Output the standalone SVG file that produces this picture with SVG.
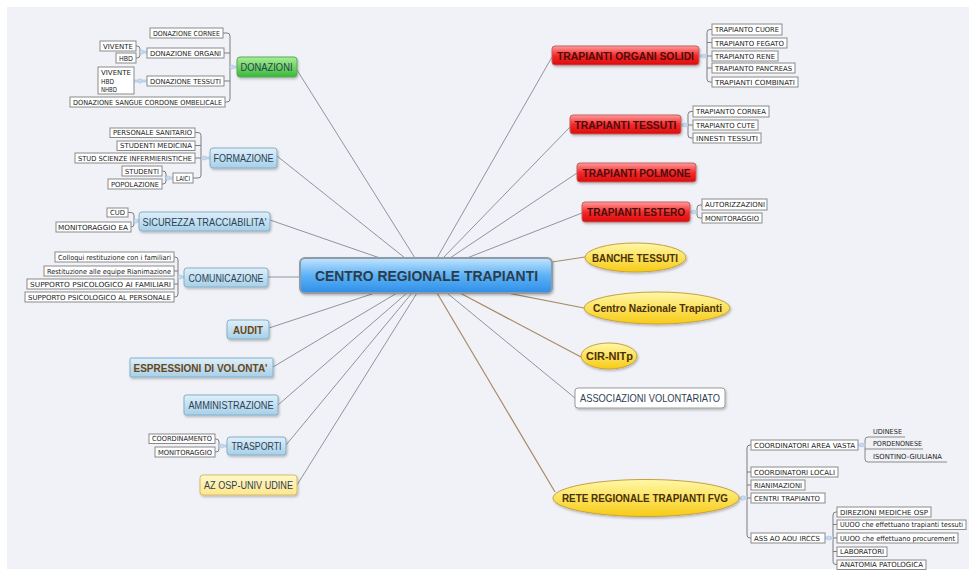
<svg xmlns="http://www.w3.org/2000/svg" width="976" height="576" viewBox="0 0 976 576">
<defs>
<linearGradient id="gBlue" x1="0" y1="0" x2="0" y2="1"><stop offset="0" stop-color="#dff0fa"/><stop offset="1" stop-color="#a6d0e8"/></linearGradient>
<linearGradient id="gGreen" x1="0" y1="0" x2="0" y2="1"><stop offset="0" stop-color="#a8f094"/><stop offset="1" stop-color="#38b838"/></linearGradient>
<linearGradient id="gRed" x1="0" y1="0" x2="0" y2="1"><stop offset="0" stop-color="#ff9c9c"/><stop offset="0.5" stop-color="#f52a2a"/><stop offset="1" stop-color="#dc0a0a"/></linearGradient>
<linearGradient id="gYel" x1="0" y1="0" x2="0" y2="1"><stop offset="0" stop-color="#fff8a8"/><stop offset="1" stop-color="#f7cb14"/></linearGradient>
<linearGradient id="gPale" x1="0" y1="0" x2="0" y2="1"><stop offset="0" stop-color="#fff9c8"/><stop offset="1" stop-color="#fde68c"/></linearGradient>
<linearGradient id="gCenter" x1="0" y1="0" x2="0" y2="1"><stop offset="0" stop-color="#c4e4fd"/><stop offset="0.5" stop-color="#5cb2f6"/><stop offset="1" stop-color="#2e8ee8"/></linearGradient>
<filter id="sh" x="-10%" y="-20%" width="120%" height="150%"><feDropShadow dx="1" dy="1.5" stdDeviation="1" flood-color="#000" flood-opacity="0.25"/></filter>
</defs>
<style>
.leaf{fill:#fff;stroke:#8a8a8a;stroke-width:1}
.lt{font-family:"DejaVu Sans Condensed","DejaVu Sans",sans-serif;font-size:7px;fill:#222}
.br{fill:none;stroke:#7d7d7d;stroke-width:1}
.jn{fill:none;stroke:#bcd4ec;stroke-width:3}
.kn{fill:#cadcf0;stroke:#a9c2de;stroke-width:0.6}
.cg{fill:none;stroke:#8f949c;stroke-width:1}
.cb{fill:none;stroke:#a88a66;stroke-width:1.2}
.nb{fill:url(#gBlue);stroke:#86aec8;stroke-width:1}
.nt{font-family:"Liberation Sans",Arial,sans-serif;font-size:10.5px;fill:#2d4053;text-anchor:middle}
.ntb{font-family:"Liberation Sans",Arial,sans-serif;font-size:10.5px;font-weight:bold;fill:#6a4516;text-anchor:middle}
.red{fill:url(#gRed);stroke:#c06060;stroke-width:1}
.rt{font-family:"Liberation Sans",Arial,sans-serif;font-size:10.5px;font-weight:bold;fill:#4a0e0e;text-anchor:middle}
.yel{fill:url(#gYel);stroke:#c9a040;stroke-width:1}
.yt{font-family:"Liberation Sans",Arial,sans-serif;font-size:10.5px;font-weight:bold;fill:#4a3008;text-anchor:middle}
.ul{fill:none;stroke:#8a8a8a;stroke-width:1}
</style>
<rect x="0" y="0" width="976" height="576" fill="#ffffff"/>
<rect x="7" y="7" width="962" height="562" fill="#f1f2f7"/>

<g id="connectors">
<path class="cg" d="M297,70 L415,258"/>
<path class="cg" d="M277,156 L405,258"/>
<path class="cg" d="M270,220 L380,258"/>
<path class="cg" d="M268,277 L300,277"/>
<path class="cg" d="M269,328 L375,293"/>
<path class="cg" d="M273,367 L397,293"/>
<path class="cg" d="M278,405 L407,293"/>
<path class="cg" d="M286,445 L412,293"/>
<path class="cg" d="M297,485 L417,293"/>
<path class="cg" d="M552,57 L437,258"/>
<path class="cg" d="M570,127 L443,258"/>
<path class="cg" d="M577,173 L450,258"/>
<path class="cg" d="M582,213 L467,258"/>
<path class="cg" d="M447,293 L575,398"/>
<path class="cb" d="M552,262 L585,257"/>
<path class="cb" d="M507,293 L584,308"/>
<path class="cb" d="M460,293 L581,357"/>
<path class="cb" d="M437,293 L555,492"/>
<path class="br" d="M223,33 H227 Q230,33 230,36 V99 Q230,102 227,102 H225 M224,53 H230 M224,81 H230"/>
<path class="jn" d="M230,67 H237"/><circle class="kn" cx="232" cy="67" r="2"/>
<path class="br" d="M136,46 H137 Q140,46 140,49 V55 Q140,58 137,58 H136"/>
<path class="jn" d="M140,52 H147"/><circle class="kn" cx="142" cy="52" r="2"/>
<path class="jn" d="M134,81 H147"/><circle class="kn" cx="140" cy="81" r="2.2"/>
<path class="br" d="M195,132.5 H198 Q201,132.5 201,135.5 V175 Q201,178 198,178 H193 M195,145.5 H201 M195,158 H201"/>
<path class="jn" d="M201,158 H210"/><circle class="kn" cx="204" cy="158" r="2"/>
<path class="br" d="M162,171 H163 Q166,171 166,174 V181 Q166,184 163,184 H162"/>
<path class="jn" d="M166,178 H173"/><circle class="kn" cx="168" cy="178" r="2"/>
<path class="br" d="M128,212.5 H131 Q134,212.5 134,215.5 V224 Q134,227 131,227"/>
<path class="jn" d="M134,221 H139"/><circle class="kn" cx="136" cy="221" r="2"/>
<path class="br" d="M174,257 H175 Q178,257 178,260 V294 Q178,297 175,297 H174 M174,271 H178 M174,284 H178"/>
<path class="jn" d="M178,277 H184"/><circle class="kn" cx="180" cy="277" r="2"/>
<path class="br" d="M215,439 H216 Q219,439 219,442 V449 Q219,452 216,452 H215"/>
<path class="jn" d="M219,446 H227"/><circle class="kn" cx="222" cy="446" r="2"/>
<path class="br" d="M712,29.5 H710 Q707,29.5 707,32.5 V79 Q707,82 710,82 H712 M707,42.5 H712 M707,56 H712 M707,68 H712"/>
<path class="jn" d="M699,56 H707"/><circle class="kn" cx="704" cy="56" r="2"/>
<path class="br" d="M693,111.5 H691 Q688,111.5 688,114.5 V135 Q688,138 691,138 H693 M688,125 H693"/>
<path class="jn" d="M681,125 H688"/><circle class="kn" cx="685" cy="125" r="2"/>
<path class="br" d="M702,205 H700 Q697,205 697,208 V215 Q697,218 700,218 H702"/>
<path class="jn" d="M690,212 H697"/><circle class="kn" cx="694" cy="212" r="2"/>
<path class="br" d="M751,445 H750 Q747,445 747,448 V535 Q747,538 750,538 H751 M747,472 H751 M747,485 H751 M747,498 H751"/>
<path class="jn" d="M739,498 H747"/><circle class="kn" cx="743" cy="498" r="2.2"/>
<path class="ul" d="M905,437 H868 Q865,437 865,440 V459 Q865,462 868,462 H947 M865,449 H923"/>
<path class="jn" d="M858,445 H865"/><circle class="kn" cx="862" cy="445" r="2"/>
<path class="br" d="M837,512 H836 Q833,512 833,515 V561.5 Q833,564.5 836,564.5 H837 M833,524.5 H837 M833,538 H837 M833,551.5 H837"/>
<path class="jn" d="M825,538 H833"/><circle class="kn" cx="829" cy="538" r="2"/>
</g>

<g id="centro"><rect x="300" y="258" width="252" height="35" rx="5" fill="url(#gCenter)" stroke="#8e9aa6" stroke-width="2" filter="url(#sh)"/><text x="426.5" y="281" font-family="Liberation Sans,Arial,sans-serif" font-size="15" font-weight="bold" fill="#2c3c4c" text-anchor="middle" textLength="223" lengthAdjust="spacingAndGlyphs">CENTRO REGIONALE TRAPIANTI</text></g>

<g id="donazioni"><rect x="237" y="57" width="60" height="20" rx="3" fill="url(#gGreen)" stroke="#5aa85a" filter="url(#sh)"/><text class="nt" x="266.5" y="71" fill="#1f3d2a" textLength="52" lengthAdjust="spacingAndGlyphs">DONAZIONI</text></g>
<g id="don-cornee"><rect class="leaf" x="150" y="28" width="73" height="10"/><text class="lt" x="153" y="35.5" textLength="67" lengthAdjust="spacingAndGlyphs">DONAZIONE CORNEE</text></g>
<g id="don-organi"><rect class="leaf" x="147" y="48" width="77" height="10"/><text class="lt" x="150" y="55.5" textLength="71" lengthAdjust="spacingAndGlyphs">DONAZIONE ORGANI</text></g>
<g id="org-vivente"><rect class="leaf" x="100" y="41" width="36" height="10"/><text class="lt" x="103" y="48.5" textLength="30" lengthAdjust="spacingAndGlyphs">VIVENTE</text></g>
<g id="org-hbd"><rect class="leaf" x="116" y="53" width="20" height="10"/><text class="lt" x="119" y="60.5" textLength="14" lengthAdjust="spacingAndGlyphs">HBD</text></g>
<g id="tes-tipi"><rect class="leaf" x="98" y="67" width="36" height="27"/><text class="lt" x="101" y="75" textLength="30" lengthAdjust="spacingAndGlyphs">VIVENTE</text><text class="lt" x="101" y="83.5" textLength="13" lengthAdjust="spacingAndGlyphs">HBD</text><text class="lt" x="101" y="92" textLength="16" lengthAdjust="spacingAndGlyphs">NHBD</text></g>
<g id="don-tessuti"><rect class="leaf" x="147" y="76" width="77" height="10"/><text class="lt" x="150" y="83.5" textLength="71" lengthAdjust="spacingAndGlyphs">DONAZIONE TESSUTI</text></g>
<g id="don-sangue"><rect class="leaf" x="70" y="97" width="155" height="10"/><text class="lt" x="73" y="104.5" textLength="149" lengthAdjust="spacingAndGlyphs">DONAZIONE SANGUE CORDONE OMBELICALE</text></g>

<g id="formazione"><rect class="nb" x="210" y="148" width="67" height="20" rx="3" filter="url(#sh)"/><text class="nt" x="243.5" y="162" textLength="60" lengthAdjust="spacingAndGlyphs">FORMAZIONE</text></g>
<g id="for-personale"><rect class="leaf" x="110" y="128" width="85" height="9.5"/><text class="lt" x="113" y="135.3" textLength="79" lengthAdjust="spacingAndGlyphs">PERSONALE SANITARIO</text></g>
<g id="for-medicina"><rect class="leaf" x="117" y="141" width="78" height="9.5"/><text class="lt" x="120" y="148.3" textLength="72" lengthAdjust="spacingAndGlyphs">STUDENTI MEDICINA</text></g>
<g id="for-stud"><rect class="leaf" x="75" y="153" width="120" height="10"/><text class="lt" x="78" y="160.5" textLength="114" lengthAdjust="spacingAndGlyphs">STUD SCIENZE INFERMIERISTICHE</text></g>
<g id="for-studenti"><rect class="leaf" x="122" y="166" width="40" height="10"/><text class="lt" x="125" y="173.5" textLength="34" lengthAdjust="spacingAndGlyphs">STUDENTI</text></g>
<g id="for-popolazione"><rect class="leaf" x="108" y="179" width="54" height="10"/><text class="lt" x="111" y="186.5" textLength="48" lengthAdjust="spacingAndGlyphs">POPOLAZIONE</text></g>
<g id="for-laici"><rect class="leaf" x="173" y="173" width="20" height="10"/><text class="lt" x="176" y="180.5" textLength="14" lengthAdjust="spacingAndGlyphs">LAICI</text></g>

<g id="sicurezza"><rect class="nb" x="139" y="212" width="131" height="19" rx="3" filter="url(#sh)"/><text class="nt" x="204.5" y="225.5" textLength="124" lengthAdjust="spacingAndGlyphs">SICUREZZA TRACCIABILITA'</text></g>
<g id="sic-cud"><rect class="leaf" x="107" y="208" width="21" height="9"/><text class="lt" x="110" y="215" textLength="15" lengthAdjust="spacingAndGlyphs">CUD</text></g>
<g id="sic-monitoraggio"><rect class="leaf" x="56" y="222" width="75" height="10"/><text class="lt" x="58" y="229.5" textLength="70" lengthAdjust="spacingAndGlyphs">MONITORAGGIO EA</text></g>

<g id="comunicazione"><rect class="nb" x="184" y="268" width="84" height="19" rx="3" filter="url(#sh)"/><text class="nt" x="226" y="281.5" textLength="75" lengthAdjust="spacingAndGlyphs">COMUNICAZIONE</text></g>
<g id="com-colloqui"><rect class="leaf" x="55" y="252" width="119" height="10"/><text class="lt" x="58" y="259.5" textLength="113" lengthAdjust="spacingAndGlyphs">Colloqui restituzione con i familiari</text></g>
<g id="com-restituzione"><rect class="leaf" x="44" y="266" width="130" height="10"/><text class="lt" x="47" y="273.5" textLength="124" lengthAdjust="spacingAndGlyphs">Restituzione alle equipe Rianimazione</text></g>
<g id="com-supp-fam"><rect class="leaf" x="27" y="279" width="147" height="10"/><text class="lt" x="30" y="286.5" textLength="141" lengthAdjust="spacingAndGlyphs">SUPPORTO PSICOLOGICO AI FAMILIARI</text></g>
<g id="com-supp-pers"><rect class="leaf" x="25" y="292" width="149" height="10"/><text class="lt" x="28" y="299.5" textLength="143" lengthAdjust="spacingAndGlyphs">SUPPORTO PSICOLOGICO AL PERSONALE</text></g>

<g id="audit"><rect class="nb" x="227" y="320" width="42" height="19" rx="3" filter="url(#sh)"/><text class="ntb" x="248" y="333.5" textLength="30" lengthAdjust="spacingAndGlyphs">AUDIT</text></g>
<g id="espressioni"><rect class="nb" x="130" y="358" width="143" height="19" rx="1" stroke="#8ea4b4" filter="url(#sh)"/><text class="ntb" x="200.5" y="371.5" textLength="134" lengthAdjust="spacingAndGlyphs">ESPRESSIONI DI VOLONTA'</text></g>
<g id="amministrazione"><rect class="nb" x="184" y="395" width="94" height="20" rx="2" filter="url(#sh)"/><text class="nt" x="231" y="409" textLength="85" lengthAdjust="spacingAndGlyphs">AMMINISTRAZIONE</text></g>

<g id="trasporti"><rect class="nb" x="227" y="437" width="59" height="18" rx="3" filter="url(#sh)"/><text class="nt" x="256.5" y="450" textLength="50" lengthAdjust="spacingAndGlyphs">TRASPORTI</text></g>
<g id="tra-coord"><rect class="leaf" x="149" y="434" width="66" height="9.5"/><text class="lt" x="152" y="441.3" textLength="60" lengthAdjust="spacingAndGlyphs">COORDINAMENTO</text></g>
<g id="tra-monit"><rect class="leaf" x="155" y="447" width="60" height="10"/><text class="lt" x="158" y="454.5" textLength="54" lengthAdjust="spacingAndGlyphs">MONITORAGGIO</text></g>

<g id="az-osp"><rect x="200" y="475" width="97" height="20" rx="3" fill="url(#gPale)" stroke="#d4bc6a" filter="url(#sh)"/><text class="nt" x="248.5" y="489" textLength="89" lengthAdjust="spacingAndGlyphs">AZ OSP-UNIV UDINE</text></g>

<g id="organi-solidi"><rect class="red" x="552" y="46" width="147" height="19" rx="3" filter="url(#sh)"/><text class="rt" x="625.5" y="59.5" textLength="137" lengthAdjust="spacingAndGlyphs">TRAPIANTI ORGANI SOLIDI</text></g>
<g id="tr-cuore"><rect class="leaf" x="712" y="24" width="70" height="11"/><text class="lt" x="715" y="32" textLength="64" lengthAdjust="spacingAndGlyphs">TRAPIANTO CUORE</text></g>
<g id="tr-fegato"><rect class="leaf" x="712" y="38" width="75" height="10"/><text class="lt" x="715" y="45.5" textLength="69" lengthAdjust="spacingAndGlyphs">TRAPIANTO FEGATO</text></g>
<g id="tr-rene"><rect class="leaf" x="712" y="51" width="66" height="10"/><text class="lt" x="715" y="58.5" textLength="60" lengthAdjust="spacingAndGlyphs">TRAPIANTO RENE</text></g>
<g id="tr-pancreas"><rect class="leaf" x="712" y="63" width="83" height="10"/><text class="lt" x="715" y="70.5" textLength="77" lengthAdjust="spacingAndGlyphs">TRAPIANTO PANCREAS</text></g>
<g id="tr-combinati"><rect class="leaf" x="712" y="77" width="86" height="10"/><text class="lt" x="715" y="84.5" textLength="80" lengthAdjust="spacingAndGlyphs">TRAPIANTI COMBINATI</text></g>

<g id="trapianti-tessuti"><rect class="red" x="570" y="115" width="111" height="19" rx="3" filter="url(#sh)"/><text class="rt" x="625.5" y="128.5" textLength="102" lengthAdjust="spacingAndGlyphs">TRAPIANTI TESSUTI</text></g>
<g id="tt-cornea"><rect class="leaf" x="693" y="106" width="76" height="11"/><text class="lt" x="696" y="114" textLength="70" lengthAdjust="spacingAndGlyphs">TRAPIANTO CORNEA</text></g>
<g id="tt-cute"><rect class="leaf" x="693" y="120" width="65" height="10"/><text class="lt" x="696" y="127.5" textLength="59" lengthAdjust="spacingAndGlyphs">TRAPIANTO CUTE</text></g>
<g id="tt-innesti"><rect class="leaf" x="693" y="133" width="68" height="10"/><text class="lt" x="696" y="140.5" textLength="62" lengthAdjust="spacingAndGlyphs">INNESTI TESSUTI</text></g>

<g id="polmone"><rect class="red" x="577" y="163" width="119" height="19" rx="3" filter="url(#sh)"/><text class="rt" x="636.5" y="176.5" textLength="108" lengthAdjust="spacingAndGlyphs">TRAPIANTI POLMONE</text></g>

<g id="estero"><rect class="red" x="582" y="202" width="108" height="20" rx="3" filter="url(#sh)"/><text class="rt" x="636" y="216" textLength="98" lengthAdjust="spacingAndGlyphs">TRAPIANTI ESTERO</text></g>
<g id="es-aut"><rect class="leaf" x="702" y="199" width="65" height="11"/><text class="lt" x="705" y="207" textLength="60" lengthAdjust="spacingAndGlyphs">AUTORIZZAZIONI</text></g>
<g id="es-mon"><rect class="leaf" x="702" y="213" width="60" height="10"/><text class="lt" x="705" y="220.5" textLength="54" lengthAdjust="spacingAndGlyphs">MONITORAGGIO</text></g>

<g id="banche"><ellipse class="yel" cx="635.5" cy="257.5" rx="50.5" ry="14.5" filter="url(#sh)"/><text class="yt" x="635" y="261.5" textLength="86" lengthAdjust="spacingAndGlyphs">BANCHE TESSUTI</text></g>
<g id="cnt"><ellipse class="yel" cx="657" cy="308" rx="73" ry="16" filter="url(#sh)"/><text class="yt" x="657.5" y="312" textLength="129" lengthAdjust="spacingAndGlyphs">Centro Nazionale Trapianti</text></g>
<g id="cir"><ellipse class="yel" cx="609" cy="356" rx="28" ry="13" filter="url(#sh)"/><text class="yt" x="609.5" y="360" textLength="47" lengthAdjust="spacingAndGlyphs">CIR-NITp</text></g>
<g id="associazioni"><rect x="575" y="388" width="150" height="20" rx="3" fill="#fff" stroke="#9a9a9a" filter="url(#sh)"/><text class="nt" x="650" y="402" fill="#333" textLength="140" lengthAdjust="spacingAndGlyphs">ASSOCIAZIONI VOLONTARIATO</text></g>

<g id="rete"><ellipse class="yel" cx="646" cy="498" rx="93" ry="18.5" filter="url(#sh)"/><text class="yt" x="645" y="502" textLength="166" lengthAdjust="spacingAndGlyphs">RETE REGIONALE TRAPIANTI FVG</text></g>
<g id="rete-area"><rect class="leaf" x="751" y="440" width="107" height="10"/><text class="lt" x="754" y="447.5" textLength="101" lengthAdjust="spacingAndGlyphs">COORDINATORI AREA VASTA</text></g>
<g id="av-udinese"><text class="lt" x="873" y="434" textLength="29" lengthAdjust="spacingAndGlyphs">UDINESE</text></g>
<g id="av-pordenonese"><text class="lt" x="873" y="446" textLength="49" lengthAdjust="spacingAndGlyphs">PORDENONESE</text></g>
<g id="av-isontino"><text class="lt" x="873" y="459" textLength="69" lengthAdjust="spacingAndGlyphs">ISONTINO-GIULIANA</text></g>
<g id="rete-locali"><rect class="leaf" x="751" y="467" width="87" height="10"/><text class="lt" x="754" y="474.5" textLength="81" lengthAdjust="spacingAndGlyphs">COORDINATORI LOCALI</text></g>
<g id="rete-rian"><rect class="leaf" x="751" y="480" width="54" height="10"/><text class="lt" x="754" y="487.5" textLength="48" lengthAdjust="spacingAndGlyphs">RIANIMAZIONI</text></g>
<g id="rete-centri"><rect class="leaf" x="751" y="493" width="74" height="10"/><text class="lt" x="754" y="500.5" textLength="66" lengthAdjust="spacingAndGlyphs">CENTRI TRAPIANTO</text></g>
<g id="rete-ass"><rect class="leaf" x="751" y="533" width="74" height="10"/><text class="lt" x="754" y="540.5" textLength="66" lengthAdjust="spacingAndGlyphs">ASS AO AOU IRCCS</text></g>
<g id="ass-direzioni"><rect class="leaf" x="837" y="507" width="94" height="10"/><text class="lt" x="840" y="514.5" textLength="88" lengthAdjust="spacingAndGlyphs">DIREZIONI MEDICHE OSP</text></g>
<g id="ass-uuoo-tess"><rect class="leaf" x="837" y="520" width="129" height="9.5"/><text class="lt" x="840" y="527.3" textLength="123" lengthAdjust="spacingAndGlyphs">UUOO che effettuano trapianti tessuti</text></g>
<g id="ass-uuoo-proc"><rect class="leaf" x="837" y="533" width="121" height="10"/><text class="lt" x="840" y="540.5" textLength="115" lengthAdjust="spacingAndGlyphs">UUOO che effettuano procurement</text></g>
<g id="ass-lab"><rect class="leaf" x="837" y="547" width="50" height="9.5"/><text class="lt" x="840" y="554.3" textLength="44" lengthAdjust="spacingAndGlyphs">LABORATORI</text></g>
<g id="ass-anat"><rect class="leaf" x="837" y="560" width="89" height="9.5"/><text class="lt" x="840" y="567.3" textLength="83" lengthAdjust="spacingAndGlyphs">ANATOMIA PATOLOGICA</text></g>
</svg>
